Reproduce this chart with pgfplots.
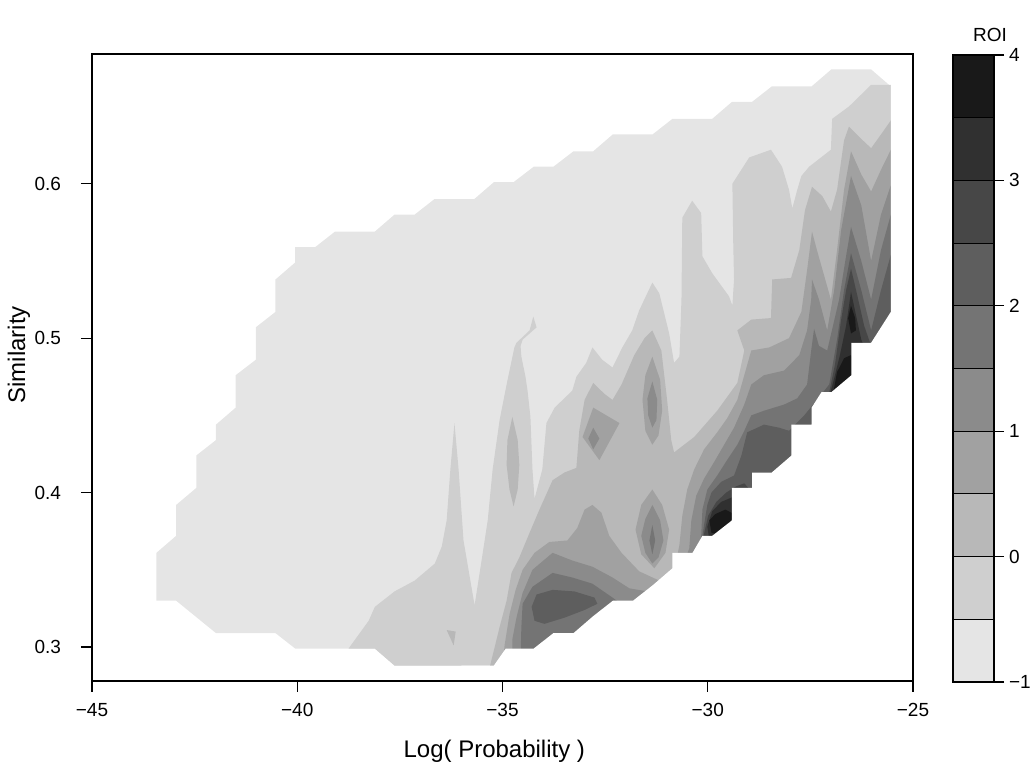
\documentclass[border=0pt]{standalone}
\usepackage{fontspec}
\setmainfont{Liberation Sans}
\usepackage{pgfplots}
\pgfplotsset{compat=1.18}

\definecolor{c0}{gray}{0.9}
\definecolor{c1}{gray}{0.8111}
\definecolor{c2}{gray}{0.7222}
\definecolor{c3}{gray}{0.6333}
\definecolor{c4}{gray}{0.5444}
\definecolor{c5}{gray}{0.4556}
\definecolor{c6}{gray}{0.3667}
\definecolor{c7}{gray}{0.2778}
\definecolor{c8}{gray}{0.1889}
\definecolor{c9}{gray}{0.1}

\begin{document}
\begin{tikzpicture}
\path[use as bounding box] (0,0) rectangle (517pt,384.5pt);

\begin{axis}[
  at={(46pt,44pt)}, anchor=south west, scale only axis,
  width=410.5pt, height=313.5pt,
  xmin=-45, xmax=-25, ymin=0.278, ymax=0.684,
  axis on top,
  xtick={-45,-40,-35,-30,-25}, xticklabels={−45,−40,−35,−30,−25},
  ytick={0.3,0.4,0.5,0.6}, yticklabels={0.3,0.4,0.5,0.6},
  tick align=outside, xtick pos=bottom, ytick pos=left,
  major tick length=5.5pt,
  tick style={black, line width=0.6pt},
  axis line style={line width=0.7pt},
  ticklabel style={font=\fontsize{9.5}{11}\selectfont},
  xticklabel shift=2pt, yticklabel shift=6.5pt,
  xlabel={Log( Probability )}, ylabel={Similarity},
  label style={font=\fontsize{12}{14}\selectfont},
  xlabel style={at={(axis description cs:0.49,0)}, anchor=center, yshift=-35pt},
  ylabel style={at={(axis description cs:-0.0889,0.52)}, anchor=center},
]
% level -1 .. -0.5 : whole data region
\addplot[fill=c0, draw=none] coordinates {
(-43.43,0.330) (-43.43,0.361) (-42.95,0.372) (-42.95,0.392) (-42.46,0.403) (-42.46,0.424)
(-41.98,0.434) (-41.98,0.444) (-41.50,0.455) (-41.50,0.476) (-41.01,0.486) (-41.01,0.507)
(-40.53,0.517) (-40.53,0.538) (-40.05,0.549) (-40.05,0.559) (-39.56,0.559) (-39.08,0.569)
(-38.11,0.569) (-37.63,0.580) (-37.14,0.580) (-36.66,0.590) (-35.69,0.590) (-35.21,0.601)
(-34.73,0.601) (-34.24,0.611) (-33.76,0.611) (-33.27,0.621) (-32.79,0.621) (-32.31,0.632)
(-31.34,0.632) (-30.86,0.642) (-29.89,0.642) (-29.41,0.653) (-28.92,0.653) (-28.44,0.663)
(-27.47,0.663) (-26.99,0.674) (-26.02,0.674) (-25.54,0.663)
(-25.54,0.517) (-26.02,0.497) (-26.50,0.497) (-26.50,0.476) (-26.99,0.465) (-27.23,0.465)
(-27.47,0.455) (-27.47,0.444) (-27.96,0.444) (-27.96,0.424) (-28.44,0.413) (-28.92,0.413)
(-28.92,0.403) (-29.41,0.403) (-29.41,0.382) (-29.89,0.372) (-30.13,0.372) (-30.37,0.361)
(-30.86,0.361) (-30.86,0.351) (-31.34,0.340) (-31.82,0.330) (-32.31,0.330) (-32.79,0.320)
(-33.27,0.309) (-33.76,0.309) (-34.24,0.299) (-34.92,0.299) (-35.21,0.288)
(-37.63,0.288) (-38.11,0.299) (-40.05,0.299) (-40.53,0.309) (-41.98,0.309) (-42.95,0.330)
};
% level -0.5 .. 0
\addplot[fill=c1, draw=none] coordinates {
(-38.75,0.299) (-38.26,0.317) (-38.11,0.326) (-37.63,0.336) (-37.14,0.343) (-36.65,0.354)
(-36.48,0.365) (-36.36,0.382) (-36.27,0.415) (-36.17,0.445) (-36.07,0.415) (-35.95,0.369)
(-35.68,0.327) (-35.51,0.356) (-35.36,0.382) (-35.24,0.415) (-35.07,0.447) (-34.90,0.470)
(-34.71,0.494) (-34.66,0.497) (-34.34,0.505) (-34.25,0.514) (-34.17,0.507) (-34.51,0.499)
(-34.56,0.495) (-34.54,0.488) (-34.44,0.475) (-34.39,0.466) (-34.32,0.449) (-34.27,0.415)
(-34.22,0.396) (-34.10,0.408) (-34.03,0.415) (-33.93,0.445) (-33.73,0.455) (-33.30,0.466)
(-33.20,0.475) (-32.96,0.484) (-32.81,0.494) (-32.57,0.486) (-32.32,0.481) (-32.08,0.494)
(-31.84,0.505) (-31.67,0.518) (-31.35,0.536) (-31.18,0.529) (-30.94,0.503) (-30.82,0.484)
(-30.69,0.488) (-30.64,0.525) (-30.62,0.578) (-30.38,0.589) (-30.16,0.581) (-30.13,0.553)
(-29.89,0.542) (-29.48,0.527) (-29.40,0.521) (-29.36,0.538) (-29.38,0.563) (-29.40,0.600)
(-28.99,0.617) (-28.46,0.622) (-28.19,0.611) (-28.02,0.596) (-27.94,0.584) (-27.82,0.596)
(-27.72,0.605) (-27.53,0.611) (-27.00,0.622) (-26.97,0.642) (-26.56,0.650) (-26.02,0.664)
(-25.54,0.664)
(-25.54,0.517) (-26.02,0.497) (-26.50,0.497) (-26.50,0.476) (-26.99,0.465) (-27.23,0.465)
(-27.47,0.455) (-27.47,0.444) (-27.96,0.444) (-27.96,0.424) (-28.44,0.413) (-28.92,0.413)
(-28.92,0.403) (-29.41,0.403) (-29.41,0.382) (-29.89,0.372) (-30.13,0.372) (-30.37,0.361)
(-30.86,0.361) (-30.86,0.351) (-31.34,0.340) (-31.82,0.330) (-32.31,0.330) (-32.79,0.320)
(-33.27,0.309) (-33.76,0.309) (-34.24,0.299) (-34.92,0.299) (-35.21,0.288)
(-37.63,0.288) (-38.11,0.299)
};
% level 0 .. 0.5
\addplot[fill=c2, draw=none] coordinates {
(-35.32,0.266) (-35.32,0.286) (-35.19,0.300) (-35.07,0.313) (-34.90,0.330) (-34.78,0.348)
(-34.59,0.358) (-34.34,0.374) (-34.10,0.389) (-33.78,0.408) (-33.49,0.413) (-33.20,0.416)
(-33.13,0.440) (-33.00,0.460) (-32.79,0.471) (-32.52,0.464) (-32.32,0.460) (-32.10,0.470)
(-31.79,0.489) (-31.54,0.500) (-31.35,0.505) (-31.13,0.492) (-30.99,0.460) (-30.89,0.434)
(-30.82,0.426) (-30.33,0.436) (-29.77,0.453) (-29.28,0.471) (-29.11,0.492) (-29.28,0.505)
(-28.94,0.512) (-28.46,0.513) (-28.43,0.538) (-27.97,0.539) (-27.77,0.557) (-27.63,0.583)
(-27.46,0.598) (-27.21,0.592) (-27.00,0.582) (-26.85,0.596) (-26.68,0.628) (-26.56,0.637)
(-26.26,0.629) (-26.02,0.623) (-25.75,0.633) (-25.46,0.644) (-25.34,0.644) (-25.34,0.266)
};
\addplot[fill=c2, draw=none] coordinates {
(-34.76,0.449) (-34.63,0.434) (-34.59,0.418) (-34.63,0.402) (-34.73,0.391) (-34.83,0.402)
(-34.90,0.418) (-34.88,0.434)
};
\addplot[fill=c2, draw=none] coordinates {(-36.36,0.311) (-36.14,0.310) (-36.19,0.301)};
% level 0.5 .. 1
\addplot[fill=c3, draw=none] coordinates {
(-35.00,0.266) (-35.00,0.286) (-34.95,0.301) (-34.83,0.321) (-34.68,0.337) (-34.51,0.350)
(-34.22,0.361) (-33.86,0.368) (-33.42,0.369) (-33.18,0.377) (-33.00,0.389) (-32.81,0.392)
(-32.59,0.387) (-32.40,0.372) (-32.10,0.361) (-31.67,0.349) (-31.18,0.343) (-30.82,0.349)
(-30.69,0.366) (-30.62,0.385) (-30.50,0.402) (-30.33,0.415) (-30.09,0.428) (-29.77,0.439)
(-29.53,0.448) (-29.28,0.460) (-29.11,0.476) (-28.94,0.492) (-28.50,0.494) (-28.02,0.500)
(-27.72,0.517) (-27.58,0.544) (-27.46,0.569) (-27.34,0.557) (-27.17,0.541) (-27.00,0.525)
(-26.85,0.557) (-26.68,0.596) (-26.51,0.621) (-26.26,0.606) (-26.02,0.595) (-25.78,0.609)
(-25.54,0.622) (-25.34,0.622) (-25.34,0.266)
};
\addplot[fill=c3, draw=none] coordinates {
(-31.35,0.402) (-31.11,0.392) (-30.94,0.376) (-31.03,0.361) (-31.30,0.351) (-31.62,0.360)
(-31.76,0.376) (-31.62,0.392)
};
\addplot[fill=c3, draw=none] coordinates {(-32.79,0.455) (-32.15,0.445) (-32.64,0.421) (-33.05,0.436)};
\addplot[fill=c3, draw=none] coordinates {
(-31.35,0.488) (-31.16,0.473) (-31.11,0.453) (-31.20,0.437) (-31.35,0.431) (-31.52,0.440)
(-31.59,0.460) (-31.52,0.476)
};
% level 1 .. 1.5
\addplot[fill=c4, draw=none] coordinates {
(-34.76,0.266) (-34.76,0.305) (-34.66,0.319) (-34.51,0.335) (-34.27,0.350) (-33.78,0.361)
(-33.30,0.356) (-32.81,0.352) (-32.32,0.345) (-31.91,0.338) (-31.47,0.336) (-31.06,0.338)
(-30.69,0.345) (-30.45,0.364) (-30.40,0.382) (-30.28,0.398) (-30.09,0.409) (-29.84,0.420)
(-29.60,0.431) (-29.36,0.442) (-29.11,0.457) (-28.94,0.470) (-28.63,0.476) (-28.14,0.479)
(-27.77,0.489) (-27.58,0.505) (-27.48,0.525) (-27.46,0.538) (-27.29,0.525) (-27.09,0.505)
(-26.92,0.531) (-26.75,0.570) (-26.51,0.605) (-26.26,0.586) (-26.02,0.550) (-25.78,0.580)
(-25.54,0.599) (-25.34,0.599) (-25.34,0.266)
};
\addplot[fill=c4, draw=none] coordinates {
(-31.35,0.392) (-31.16,0.382) (-31.08,0.369) (-31.20,0.358) (-31.35,0.354) (-31.52,0.361)
(-31.62,0.372) (-31.52,0.383)
};
\addplot[fill=c4, draw=none] coordinates {(-32.79,0.442) (-32.64,0.435) (-32.79,0.428) (-32.91,0.435)};
\addplot[fill=c4, draw=none] coordinates {
(-31.35,0.472) (-31.23,0.460) (-31.25,0.447) (-31.35,0.442) (-31.45,0.450) (-31.47,0.461)
};
% level 1.5 .. 2
\addplot[fill=c5, draw=none] coordinates {
(-34.59,0.266) (-34.54,0.313) (-34.51,0.328) (-34.27,0.339) (-33.78,0.348) (-33.30,0.345)
(-32.81,0.341) (-32.32,0.332) (-31.91,0.324) (-31.18,0.330) (-30.33,0.347) (-30.16,0.372)
(-30.13,0.389) (-30.01,0.402) (-29.77,0.411) (-29.53,0.421) (-29.28,0.431) (-29.11,0.440)
(-28.94,0.450) (-28.63,0.453) (-28.14,0.457) (-27.82,0.461) (-27.58,0.470) (-27.48,0.492)
(-27.41,0.506) (-27.29,0.495) (-27.09,0.492) (-26.80,0.525) (-26.65,0.550) (-26.51,0.572)
(-26.26,0.550) (-26.02,0.525) (-25.78,0.557) (-25.54,0.580) (-25.34,0.580) (-25.34,0.266)
};
\addplot[fill=c5, draw=none] coordinates {(-31.35,0.379) (-31.28,0.369) (-31.35,0.360) (-31.42,0.369)};
% level 2 .. 2.5
\addplot[fill=c6, draw=none] coordinates {
(-34.29,0.326) (-34.17,0.334) (-33.78,0.337) (-33.25,0.336) (-32.76,0.332) (-32.69,0.328)
(-33.00,0.324) (-33.49,0.319) (-33.98,0.315) (-34.22,0.317)
};
\addplot[fill=c6, draw=none] coordinates {
(-30.21,0.356) (-30.09,0.379) (-30.01,0.392) (-29.91,0.400) (-29.67,0.407) (-29.36,0.411)
(-29.18,0.424) (-29.04,0.439) (-28.63,0.444) (-28.26,0.442) (-28.02,0.440) (-27.65,0.450)
(-27.34,0.460) (-27.04,0.470) (-26.85,0.499) (-26.68,0.531) (-26.51,0.555) (-26.26,0.531)
(-26.02,0.505) (-25.78,0.531) (-25.54,0.554) (-25.34,0.554) (-25.34,0.266) (-30.21,0.266)
};
% level 2.5 .. 3
\addplot[fill=c7, draw=none] coordinates {
(-30.21,0.353) (-30.11,0.371) (-29.99,0.385) (-29.79,0.394) (-29.55,0.400) (-29.31,0.404)
(-29.11,0.406) (-28.75,0.395) (-29.48,0.356)
};
\addplot[fill=c7, draw=none] coordinates {
(-26.51,0.545) (-26.36,0.528) (-26.19,0.508) (-26.02,0.495) (-25.71,0.473) (-26.68,0.447)
(-27.21,0.457) (-27.04,0.465) (-26.90,0.483) (-26.75,0.512) (-26.63,0.531)
};
% level 3 .. 3.5
\addplot[fill=c8, draw=none] coordinates {
(-30.01,0.378) (-29.89,0.388) (-29.67,0.394) (-29.40,0.397) (-29.11,0.392) (-29.48,0.369)
(-29.96,0.369)
};
\addplot[fill=c8, draw=none] coordinates {
(-26.51,0.530) (-26.39,0.515) (-26.26,0.499) (-25.95,0.479) (-26.68,0.453) (-27.04,0.462)
(-26.92,0.474) (-26.78,0.489) (-26.63,0.508)
};
% level 3.5 .. 4
\addplot[fill=c9, draw=none] coordinates {
(-29.96,0.382) (-29.82,0.386) (-29.57,0.389) (-29.36,0.386) (-29.60,0.372) (-29.91,0.374)
};
\addplot[fill=c9, draw=none] coordinates {
(-26.51,0.521) (-26.41,0.513) (-26.39,0.505) (-26.51,0.503) (-26.58,0.513)
};
\addplot[fill=c9, draw=none] coordinates {
(-26.92,0.468) (-26.85,0.478) (-26.68,0.487) (-26.51,0.489) (-26.31,0.479) (-26.56,0.460)
(-26.92,0.460)
};
% no data below and right of the grid
\addplot[fill=white, draw=none] coordinates {
(-25.54,0.690)
(-25.54,0.517) (-26.02,0.497) (-26.50,0.497) (-26.50,0.476) (-26.99,0.465) (-27.23,0.465)
(-27.47,0.455) (-27.47,0.444) (-27.96,0.444) (-27.96,0.424) (-28.44,0.413) (-28.92,0.413)
(-28.92,0.403) (-29.41,0.403) (-29.41,0.382) (-29.89,0.372) (-30.13,0.372) (-30.37,0.361)
(-30.86,0.361) (-30.86,0.351) (-31.34,0.340) (-31.82,0.330) (-32.31,0.330) (-32.79,0.320)
(-33.27,0.309) (-33.76,0.309) (-34.24,0.299) (-34.92,0.299) (-35.21,0.288)
(-36.00,0.288) (-36.00,0.260) (-24.90,0.260) (-24.90,0.690)
};
\end{axis}

\begin{axis}[
  at={(476.5pt,43.5pt)}, anchor=south west, scale only axis,
  width=20.5pt, height=313.5pt,
  xmin=0, xmax=1, ymin=-1, ymax=4,
  axis on top,
  xtick=\empty,
  ytick={-1,0,1,2,3,4}, yticklabels={−1,0,1,2,3,4},
  ytick pos=right, yticklabel pos=right,
  tick align=outside, major tick length=5pt,
  tick style={black, line width=0.6pt},
  axis line style={line width=0.7pt},
  ticklabel style={font=\fontsize{9.5}{11}\selectfont},
  yticklabel shift=-1pt,
]
\addplot[fill=c0, draw=black] coordinates {(0,-1) (1,-1) (1,-0.5) (0,-0.5)} -- cycle;
\addplot[fill=c1, draw=black] coordinates {(0,-0.5) (1,-0.5) (1,0) (0,0)} -- cycle;
\addplot[fill=c2, draw=black] coordinates {(0,0) (1,0) (1,0.5) (0,0.5)} -- cycle;
\addplot[fill=c3, draw=black] coordinates {(0,0.5) (1,0.5) (1,1) (0,1)} -- cycle;
\addplot[fill=c4, draw=black] coordinates {(0,1) (1,1) (1,1.5) (0,1.5)} -- cycle;
\addplot[fill=c5, draw=black] coordinates {(0,1.5) (1,1.5) (1,2) (0,2)} -- cycle;
\addplot[fill=c6, draw=black] coordinates {(0,2) (1,2) (1,2.5) (0,2.5)} -- cycle;
\addplot[fill=c7, draw=black] coordinates {(0,2.5) (1,2.5) (1,3) (0,3)} -- cycle;
\addplot[fill=c8, draw=black] coordinates {(0,3) (1,3) (1,3.5) (0,3.5)} -- cycle;
\addplot[fill=c9, draw=black] coordinates {(0,3.5) (1,3.5) (1,4) (0,4)} -- cycle;
\end{axis}

\node[font=\fontsize{9.5}{11}\selectfont] at (495pt,367pt) {ROI};
\end{tikzpicture}
\end{document}
